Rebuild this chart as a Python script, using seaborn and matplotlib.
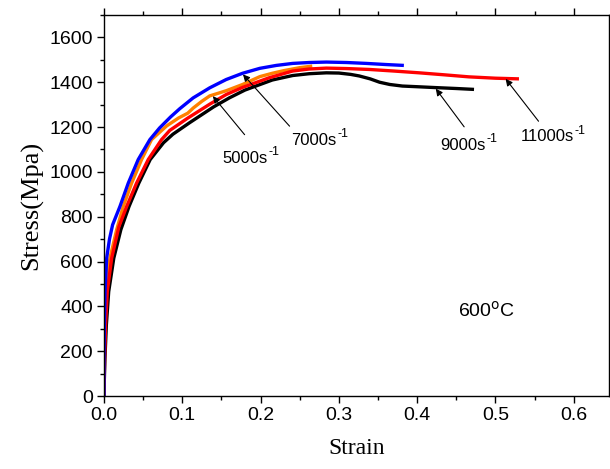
import matplotlib
matplotlib.use("Agg")
import matplotlib.pyplot as plt
import seaborn as sns
import pandas as pd
from matplotlib.ticker import MultipleLocator

# Flow stress curves at 600 °C for four strain rates
strain_5000 = [0.0, 0.0, 0.003, 0.0076, 0.0162, 0.0246, 0.0353, 0.048, 0.0607, 0.080,
               0.095, 0.107, 0.114, 0.125, 0.135, 0.156, 0.177, 0.199, 0.215, 0.230,
               0.250, 0.266]
stress_5000 = [0, 300, 500, 615, 742, 846, 950, 1055, 1144, 1205,
               1240, 1262, 1285, 1315, 1339, 1362, 1390, 1425, 1440, 1452,
               1465, 1472]

strain_7000 = [0.0, 0.0, 0.0005, 0.0013, 0.0034, 0.007, 0.011, 0.0204, 0.031, 0.0437,
               0.0586, 0.071, 0.085, 0.0968, 0.1138, 0.135, 0.156, 0.177, 0.199, 0.220,
               0.241, 0.262, 0.284, 0.310, 0.335, 0.360, 0.383]
stress_7000 = [0, 150, 317, 466, 615, 700, 764, 846, 950, 1055,
               1144, 1196, 1245, 1282, 1330, 1375, 1412, 1440, 1462, 1475,
               1484, 1488, 1490, 1488, 1484, 1479, 1475]

strain_9000 = [0.0, 0.0, 0.0012, 0.003, 0.006, 0.0125, 0.0215, 0.032, 0.0445, 0.059,
               0.076, 0.088, 0.1096, 0.140, 0.160, 0.180, 0.215, 0.241, 0.262, 0.284,
               0.300, 0.315, 0.326, 0.340, 0.352, 0.365, 0.381, 0.400, 0.424, 0.450,
               0.4726]
stress_9000 = [0, 20, 168, 317, 466, 615, 742, 846, 950, 1055,
               1130, 1168, 1220, 1290, 1330, 1365, 1410, 1430, 1438, 1442,
               1441, 1435, 1428, 1415, 1400, 1390, 1383, 1380, 1376, 1372,
               1368]

strain_11000 = [0.0, 0.0, 0.0008, 0.002, 0.0042, 0.0098, 0.019, 0.029, 0.0416, 0.0565,
                0.0735, 0.084, 0.107, 0.135, 0.156, 0.177, 0.211, 0.241, 0.262, 0.284,
                0.310, 0.339, 0.370, 0.4025, 0.435, 0.466, 0.500, 0.530]
stress_11000 = [0, 20, 168, 317, 466, 615, 755, 846, 950, 1055,
                1144, 1185, 1240, 1302, 1345, 1377, 1420, 1450, 1459, 1463,
                1461, 1457, 1450, 1442, 1433, 1424, 1418, 1415]

rate_values = ["5000", "7000", "9000", "11000"]
rate_unit = "s"
rate_exponent = "-1"
temperature_label = "600$^{\\rm o}$C"

sns.set_style("ticks")
plt.rcParams["font.family"] = ["Liberation Sans", "DejaVu Sans"]
plt.rcParams["mathtext.default"] = "regular"
for key in ("text.color", "axes.labelcolor", "xtick.color", "ytick.color",
            "axes.edgecolor"):
    plt.rcParams[key] = "black"

fig = plt.figure(figsize=(6.10, 4.69), dpi=100)
ax = fig.add_axes([104 / 610, 73 / 469, 505 / 610, 381 / 469])

series = [
    (strain_9000, stress_9000, "#000000"),
    (strain_5000, stress_5000, "#FF8000"),
    (strain_11000, stress_11000, "#FF0000"),
    (strain_7000, stress_7000, "#0000FF"),
]
for xs, ys, col in series:
    df = pd.DataFrame({"Strain": xs, "Stress": ys})
    sns.lineplot(data=df, x="Strain", y="Stress", sort=False, estimator=None,
                 color=col, lw=2.4, ax=ax, solid_joinstyle="round",
                 solid_capstyle="butt")

ax.set_xlim(0, 0.645)
ax.set_ylim(0, 1700)
ax.xaxis.set_major_locator(MultipleLocator(0.1))
ax.xaxis.set_minor_locator(MultipleLocator(0.05))
ax.yaxis.set_major_locator(MultipleLocator(200))
ax.yaxis.set_minor_locator(MultipleLocator(100))
ax.tick_params(which="both", direction="out", top=True, right=True,
               labeltop=False, labelright=False, width=1.0, color="black",
               labelcolor="black")
ax.tick_params(which="major", length=5, labelsize=14, pad=3)
ax.tick_params(which="minor", length=3)
for s in ax.spines.values():
    s.set_visible(True)
    s.set_linewidth(1.0)
    s.set_color("black")

ax.set_xlabel("Strain", family="Liberation Serif", fontsize=17, labelpad=10,
              color="black")
ax.set_ylabel("Stress(Mpa)", family="Liberation Serif", fontsize=19, labelpad=4,
              color="black")

# Arrows from each label to its curve
arrows = [
    ((0.139, 1338), (0.1796, 1166)),
    ((0.1775, 1435), (0.237, 1204)),
    ((0.4238, 1371), (0.460, 1201)),
    ((0.513, 1415), (0.555, 1226)),
]
for tip, tail in arrows:
    ax.annotate("", xy=tip, xytext=tail,
                arrowprops=dict(arrowstyle="-|>", color="black", lw=0.8,
                                mutation_scale=10, shrinkA=0, shrinkB=0))

# Strain-rate labels: value + unit, with a small raised exponent
label_pos = [(0.151, 1041), (0.239, 1122), (0.430, 1099), (0.532, 1137)]
for (lx, ly), val in zip(label_pos, rate_values):
    base = ax.text(lx, ly, val + rate_unit, fontsize=12, ha="left",
                   va="baseline", color="black")
    ax.annotate(rate_exponent, xy=(1.02, 0.5), xycoords=base, fontsize=9,
                ha="left", va="bottom", color="black")

ax.text(0.452, 353, temperature_label, fontsize=14, ha="left", va="baseline",
        color="black")

fig.savefig("out.png", dpi=100)
